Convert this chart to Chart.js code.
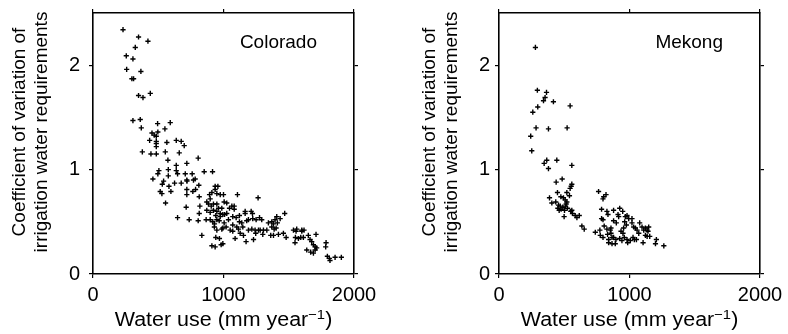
<!DOCTYPE html>
<html>
<head>
<meta charset="utf-8">
<script src="https://cdn.jsdelivr.net/npm/chart.js@4.4.0/dist/chart.umd.min.js"></script>
<style>
  html, body { margin: 0; padding: 0; background: #fff; }
  #wrap { position: relative; width: 788px; height: 334px; overflow: hidden; }
  canvas { position: absolute; top: 0; }
</style>
</head>
<body>
<div id="wrap">
  <canvas id="c1" width="406" height="334" style="left:0px"></canvas>
  <canvas id="c2" width="382" height="334" style="left:406px"></canvas>
</div>
<script>
// ---------- DATA ----------
const panelNames = ['Colorado', 'Mekong'];
const xTicks = [0, 1000, 2000];
const yTicks = [0, 1, 2];
const xRange = [0, 2000];
const yRange = [0, 2.5];
const yTitleLines = ['Coefficient of variation of', 'irrigation water requirements'];
const xTitleMain = 'Water use (mm year';
const xTitleSup = '\u22121';
const xTitleEnd = ')';

const coloradoX = [230,349,421,324,255,306,258,367,298,311,349,383,439,306,362,370,495,592,551,452,469,497,485,434,485,485,485,566,638,676,699,378,444,485,554,661,574,638,719,806,505,497,577,638,648,852,916,459,577,707,760,541,531,625,676,720,719,770,783,811,582,515,528,597,719,765,786,719,814,556,714,648,737,806,814,819,834,872,893,898,936,957,936,949,975,1000,911,1107,1265,885,906,923,949,962,987,1005,1025,1064,1082,1046,1082,872,898,923,949,975,995,941,975,1008,1025,867,898,918,931,949,967,1005,1038,1071,1097,1122,1166,1166,1212,1222,1122,1140,1178,1191,1224,1250,1276,1293,930,949,987,995,1102,1115,1148,1191,1217,1242,1281,1306,1332,1344,1370,1395,1413,1383,1370,1408,1434,1469,1388,1403,1421,1301,1362,1383,1459,1480,1536,1556,1561,1600,1551,1574,1592,1612,1548,1650,1663,1600,1617,1709,1676,1689,1702,1714,1638,1668,1689,1702,1786,1783,1796,1811,1816,1855,1903,911,936,941,969,982,995,1089,1173,1128,1153,1230,1247,1268,1051,1071,1020,1071];
const coloradoY = [2.34,2.27,2.23,2.17,2.09,2.06,1.96,1.94,1.87,1.87,1.71,1.69,1.73,1.47,1.48,1.40,1.44,1.45,1.39,1.35,1.33,1.36,1.32,1.28,1.27,1.25,1.22,1.26,1.28,1.27,1.23,1.17,1.15,1.15,1.17,1.16,1.09,1.04,1.06,1.11,0.99,0.96,1.00,0.99,0.96,0.98,0.98,0.91,0.94,0.96,0.96,0.89,0.86,0.87,0.87,0.89,0.90,0.90,0.91,0.85,0.84,0.79,0.77,0.79,0.81,0.79,0.81,0.76,0.74,0.68,0.64,0.54,0.52,0.51,0.58,0.65,0.37,0.69,0.76,0.72,0.84,0.84,0.81,0.77,0.76,0.76,0.78,0.76,0.73,0.67,0.65,0.67,0.67,0.63,0.63,0.69,0.68,0.65,0.65,0.63,0.62,0.61,0.59,0.61,0.60,0.58,0.57,0.56,0.55,0.57,0.58,0.52,0.52,0.50,0.48,0.52,0.51,0.49,0.52,0.55,0.54,0.56,0.60,0.58,0.60,0.58,0.50,0.49,0.51,0.52,0.53,0.52,0.54,0.52,0.45,0.42,0.43,0.44,0.45,0.43,0.45,0.42,0.43,0.42,0.42,0.42,0.42,0.49,0.50,0.52,0.49,0.48,0.45,0.55,0.53,0.58,0.43,0.44,0.38,0.38,0.37,0.37,0.39,0.35,0.42,0.41,0.43,0.41,0.35,0.34,0.35,0.35,0.30,0.37,0.33,0.42,0.42,0.38,0.31,0.28,0.26,0.25,0.23,0.21,0.20,0.23,0.30,0.26,0.17,0.15,0.13,0.16,0.16,0.27,0.26,0.35,0.34,0.28,0.29,0.34,0.31,0.39,0.37,0.33,0.39,0.42,0.42,0.41,0.45,0.47];

const mekongX = [279,294,364,353,341,417,297,259,545,284,379,522,243,251,346,366,379,443,558,438,484,448,520,545,553,558,540,387,405,435,456,469,451,461,476,489,494,507,474,515,520,502,509,499,525,550,558,563,584,597,615,635,653,763,797,802,820,738,773,786,797,786,827,835,878,912,925,948,806,827,853,858,878,899,917,968,981,994,1019,963,976,955,935,950,776,797,832,840,858,866,840,866,891,878,896,925,942,960,981,986,1006,1027,1037,1019,1032,1045,1058,1078,1096,1109,1122,1135,1147,1142,1122,1135,1155,1104,1053,1071,1206,1199,1263];
const mekongY = [2.17,1.76,1.74,1.69,1.66,1.65,1.60,1.55,1.61,1.40,1.39,1.40,1.32,1.18,1.06,1.09,1.01,1.09,1.04,0.88,0.91,0.78,0.78,0.82,0.84,0.86,0.75,0.73,0.68,0.69,0.66,0.65,0.63,0.61,0.62,0.64,0.73,0.71,0.74,0.67,0.69,0.61,0.65,0.55,0.63,0.60,0.61,0.58,0.56,0.54,0.56,0.46,0.43,0.79,0.72,0.74,0.76,0.40,0.42,0.53,0.52,0.62,0.60,0.57,0.61,0.57,0.63,0.60,0.46,0.43,0.42,0.44,0.51,0.49,0.55,0.55,0.56,0.53,0.53,0.50,0.47,0.44,0.41,0.39,0.37,0.35,0.38,0.33,0.39,0.35,0.30,0.29,0.29,0.35,0.33,0.34,0.32,0.35,0.33,0.30,0.32,0.35,0.33,0.49,0.45,0.44,0.42,0.49,0.45,0.42,0.44,0.42,0.45,0.41,0.37,0.36,0.36,0.30,0.33,0.39,0.33,0.29,0.27];

// ---------- RENDERING ----------
const FONT = '"Liberation Sans", Arial, Helvetica, sans-serif';

const textPlugin = {
  id: 'panelText',
  afterDraw(chart, args, o) {
    const ctx = chart.ctx;
    const a = chart.chartArea;
    ctx.save();
    ctx.fillStyle = '#000';
    // y-axis title (two lines, rotated)
    ctx.font = '19px ' + FONT;
    const cy = (a.top + a.bottom) / 2 - 11.5;
    yTitleLines.forEach((line, i) => {
      ctx.save();
      ctx.translate(o.yTitleX[i], cy);
      ctx.rotate(-Math.PI / 2);
      ctx.textAlign = 'center';
      ctx.textBaseline = 'alphabetic';
      ctx.fillText(line, 0, 0);
      ctx.restore();
    });
    // x-axis title with superscript (slightly wide lettering, as in the original)
    const sx = 1.1;
    ctx.textAlign = 'left';
    ctx.textBaseline = 'alphabetic';
    ctx.font = '19.5px ' + FONT;
    const w1 = ctx.measureText(xTitleMain).width;
    const w3 = ctx.measureText(xTitleEnd).width;
    ctx.font = '13.5px ' + FONT;
    const w2 = ctx.measureText(xTitleSup).width;
    const total = (w1 + w2 + w3) * sx;
    const x0 = (a.left + a.right) / 2 - total / 2;
    const by = a.bottom + 52;
    ctx.save();
    ctx.translate(x0, by);
    ctx.scale(sx, 1);
    ctx.font = '19.5px ' + FONT;
    ctx.fillText(xTitleMain, 0, 0);
    ctx.font = '13.5px ' + FONT;
    ctx.fillText(xTitleSup, w1, -7.5);
    ctx.font = '19.5px ' + FONT;
    ctx.fillText(xTitleEnd, w1 + w2, 0);
    ctx.restore();
    // panel name
    ctx.textAlign = 'right';
    ctx.font = '19px ' + FONT;
    ctx.fillText(o.name, a.right - 37, a.top + 35);
    ctx.restore();
  }
};

function axisBase(extra) {
  return Object.assign({
    type: 'linear',
    grid: { drawOnChartArea: false, drawTicks: true, tickLength: 4, color: '#000', lineWidth: 1.2 },
    border: { display: true, color: '#000', width: 1.6 }
  }, extra);
}

const plainLabel = v => String(v);
const noPad = s => { s.paddingTop = 0; s.paddingBottom = 0; s.paddingLeft = 0; s.paddingRight = 0; };

function makeChart(id, xs, ys, name, tickPad, yTitleX, rightW) {
  const pts = xs.map((x, i) => ({ x: x, y: ys[i] }));
  const setX = s => { s.ticks = xTicks.map(v => ({ value: v })); };
  const setY = s => { s.ticks = yTicks.map(v => ({ value: v })); };
  new Chart(document.getElementById(id), {
    type: 'scatter',
    data: {
      datasets: [{
        data: pts,
        pointStyle: 'cross',
        pointRadius: 2.6,
        pointHoverRadius: 2.6,
        pointBorderWidth: 1.4,
        borderColor: '#000',
        backgroundColor: '#000'
      }]
    },
    options: {
      responsive: false,
      animation: false,
      devicePixelRatio: 1,
      events: [],
      layout: { padding: 0 },
      plugins: {
        legend: { display: false },
        tooltip: { enabled: false },
        panelText: { name: name, yTitleX: yTitleX }
      },
      scales: {
        x: axisBase({
          position: 'bottom', min: xRange[0], max: xRange[1],
          afterBuildTicks: setX,
          afterFit: s => { s.height = 60; noPad(s); },
          ticks: { font: { size: 20, family: FONT }, color: '#000', padding: 5, maxRotation: 0, autoSkip: false, callback: plainLabel }
        }),
        x2: axisBase({
          position: 'top', min: xRange[0], max: xRange[1],
          afterBuildTicks: setX,
          afterFit: s => { s.height = 13; noPad(s); },
          ticks: { display: false }
        }),
        y: axisBase({
          position: 'left', min: yRange[0], max: yRange[1],
          afterBuildTicks: setY,
          afterFit: s => { s.width = 93; noPad(s); },
          ticks: { font: { size: 20, family: FONT }, color: '#000', padding: tickPad, autoSkip: false, callback: plainLabel }
        }),
        y2: axisBase({
          position: 'right', min: yRange[0], max: yRange[1],
          afterBuildTicks: setY,
          afterFit: s => { s.width = rightW; noPad(s); },
          ticks: { display: false }
        })
      }
    },
    plugins: [textPlugin]
  });
}

makeChart('c1', coloradoX, coloradoY, panelNames[0], 9, [25, 46.5], 406 - 354);
makeChart('c2', mekongX, mekongY, panelNames[1], 5, [29, 50.5], 382 - 354);
</script>
</body>
</html>
